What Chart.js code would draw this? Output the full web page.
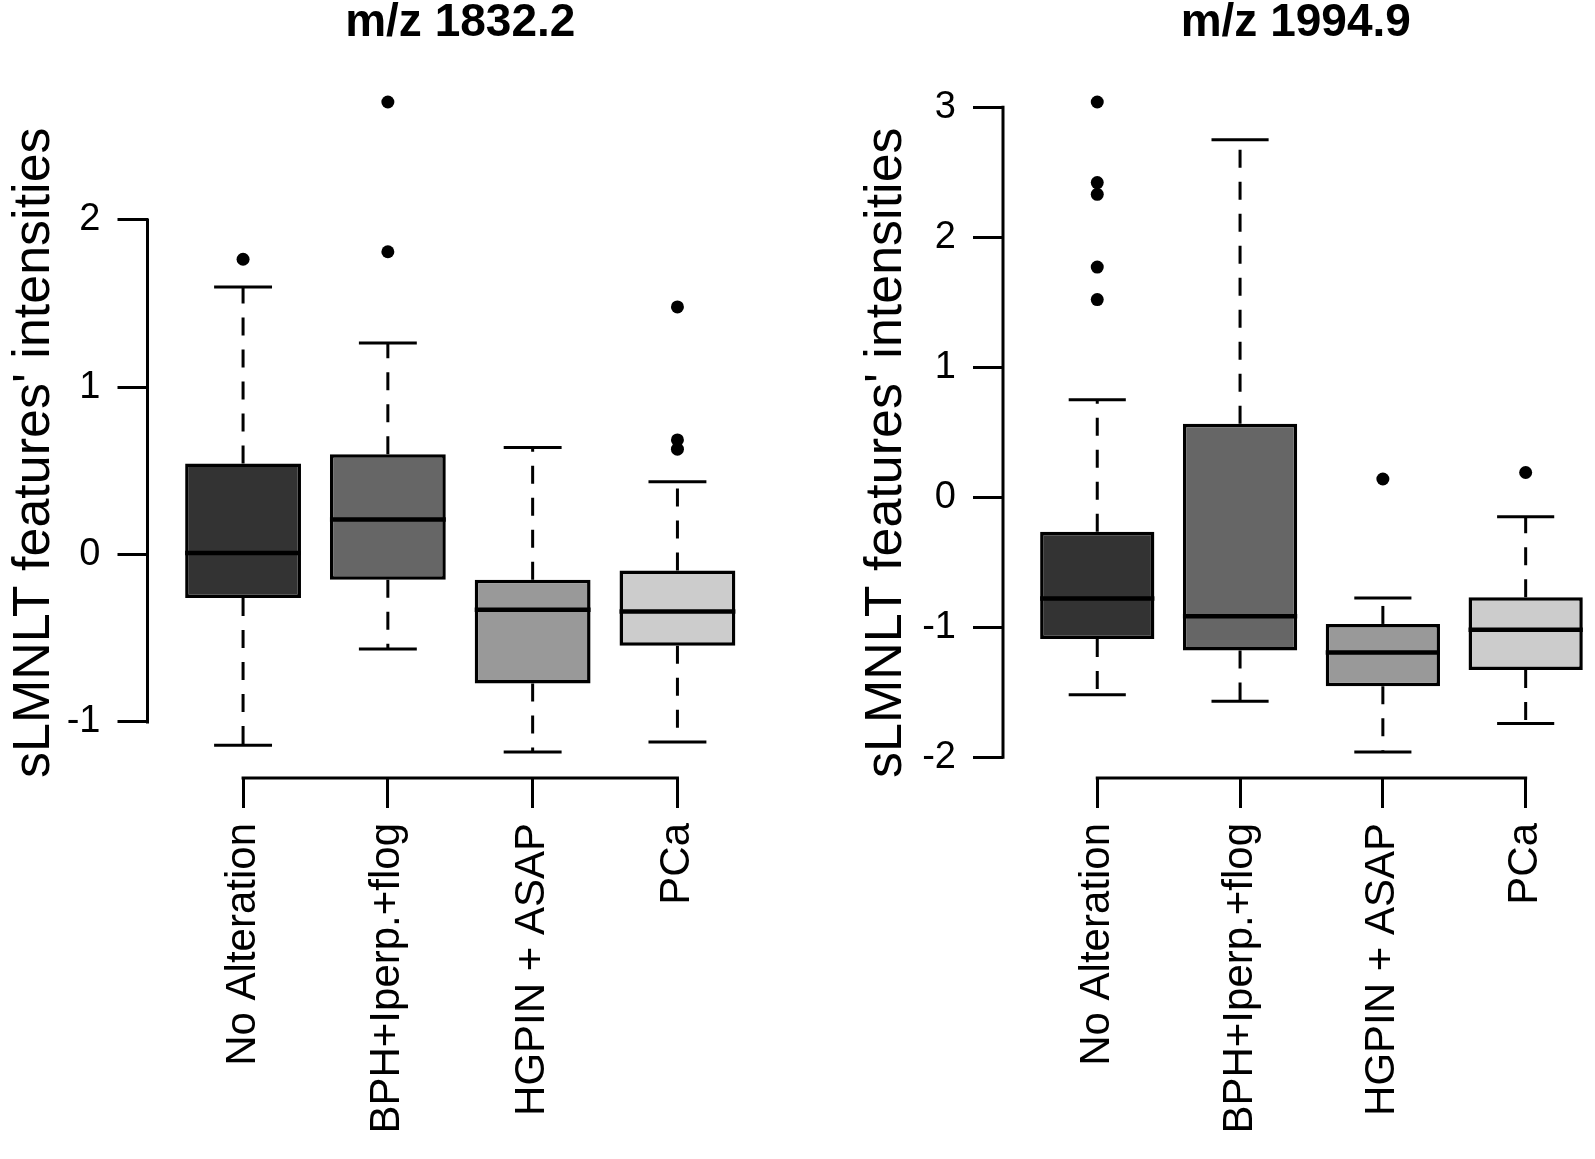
<!DOCTYPE html>
<html>
<head>
<meta charset="utf-8">
<title>sLMNLT box plots</title>
<script src="https://cdn.jsdelivr.net/npm/chart.js@4.4.1/dist/chart.umd.min.js"></script>
<style>
  html, body { margin: 0; padding: 0; background: #fff; overflow: hidden; }
  body { width: 1595px; height: 1159px; position: relative; }
  .panel { position: absolute; top: 0; height: 1159px; }
  #leftPanel { left: 0; width: 797px; }
  #rightPanel { left: 797px; width: 798px; }
</style>
</head>
<body>
<div class="panel" id="leftPanel"><canvas id="chartLeft"></canvas></div>
<div class="panel" id="rightPanel"><canvas id="chartRight"></canvas></div>
<script>
var categories = ['No Alteration', 'BPH+Iperp.+flog', 'HGPIN + ASAP', 'PCa'];
var boxFills = ['#333333', '#666666', '#999999', '#cccccc'];

// m/z 1832.2
var leftMin     = [-1.14, -0.565, -1.18, -1.12];
var leftQ1      = [-0.26, -0.15, -0.77, -0.545];
var leftMedian  = [0.01, 0.21, -0.33, -0.34];
var leftQ3      = [0.545, 0.60, -0.15, -0.095];
var leftMax     = [1.60, 1.265, 0.64, 0.435];
var leftOutliers = [[1.765], [1.81, 2.705], [], [0.63, 0.685, 1.48]];
var leftYTicks  = [-1, 0, 1, 2];

// m/z 1994.9
var rightMin     = [-1.52, -1.57, -1.96, -1.74];
var rightQ1      = [-1.09, -1.18, -1.455, -1.33];
var rightMedian  = [-0.78, -0.915, -1.195, -1.02];
var rightQ3      = [-0.265, 0.565, -0.975, -0.77];
var rightMax     = [0.75, 2.75, -0.775, -0.15];
var rightOutliers = [[1.52, 1.77, 2.33, 2.42, 3.04], [], [0.14], [0.19]];
var rightYTicks  = [-2, -1, 0, 1, 2, 3];

var FONT = "'Liberation Sans', Arial, Helvetica, sans-serif";
Chart.defaults.font.family = FONT;
Chart.defaults.color = '#000';

function strokeLine(ctx, x1, y1, x2, y2) {
  ctx.beginPath();
  ctx.moveTo(x1, y1);
  ctx.lineTo(x2, y2);
  ctx.stroke();
}

// whiskers, staples, medians and R-style axis lines
function makeBoxPlugin(stats, yTicks) {
  return {
    id: 'boxExtras',
    afterDatasetsDraw: function(chart) {
      var ctx = chart.ctx, xs = chart.scales.x, ys = chart.scales.y;
      var bars = chart.getDatasetMeta(0).data;
      ctx.save();
      ctx.strokeStyle = '#000';
      bars.forEach(function(bar, i) {
        var cx = xs.getPixelForValue(i + 1);
        var half = bar.width / 2;
        var yMin = ys.getPixelForValue(stats.min[i]);
        var yQ1 = ys.getPixelForValue(stats.q1[i]);
        var yMed = ys.getPixelForValue(stats.median[i]);
        var yQ3 = ys.getPixelForValue(stats.q3[i]);
        var yMax = ys.getPixelForValue(stats.max[i]);

        ctx.lineWidth = 3;
        ctx.setLineDash([18, 14]);
        strokeLine(ctx, cx, yQ3, cx, yMax);
        strokeLine(ctx, cx, yQ1, cx, yMin);
        ctx.setLineDash([]);
        strokeLine(ctx, cx - half / 2, yMax, cx + half / 2, yMax);
        strokeLine(ctx, cx - half / 2, yMin, cx + half / 2, yMin);

        ctx.lineWidth = 4.5;
        strokeLine(ctx, cx - half, yMed, cx + half, yMed);
      });
      ctx.restore();
    },
    afterDraw: function(chart) {
      var ctx = chart.ctx, xs = chart.scales.x, ys = chart.scales.y, area = chart.chartArea;
      ctx.save();
      ctx.strokeStyle = '#000';
      ctx.lineWidth = 3;
      ctx.lineCap = 'square';
      strokeLine(ctx, area.left, ys.getPixelForValue(yTicks[0]),
                      area.left, ys.getPixelForValue(yTicks[yTicks.length - 1]));
      strokeLine(ctx, xs.getPixelForValue(1), area.bottom,
                      xs.getPixelForValue(categories.length), area.bottom);
      ctx.restore();
    }
  };
}

function buildBoxChart(id, title, stats, outliers, yTicks, layout) {
  var ctx = document.getElementById(id);
  if (!ctx) return;

  // R boxplot limits: data range widened by 4% on each side
  var all = stats.min.concat(stats.max);
  outliers.forEach(function(o) { all = all.concat(o); });
  var lo = Math.min.apply(null, all), hi = Math.max.apply(null, all);
  var pad = (hi - lo) * 0.04;

  var boxData = categories.map(function(c, i) {
    return { x: i + 1, y: [stats.q1[i], stats.q3[i]] };
  });
  var outlierData = [];
  outliers.forEach(function(list, i) {
    list.forEach(function(v) { outlierData.push({ x: i + 1, y: v }); });
  });

  new Chart(ctx, {
    type: 'bar',
    data: {
      datasets: [{
        type: 'bar',
        data: boxData,
        backgroundColor: boxFills,
        borderColor: '#000',
        borderWidth: 3.5,
        borderSkipped: false,
        barPercentage: 0.8,
        categoryPercentage: 1.0
      }, {
        type: 'scatter',
        data: outlierData,
        pointRadius: 6.5,
        pointBackgroundColor: '#000',
        pointBorderWidth: 0
      }]
    },
    options: {
      responsive: true,
      maintainAspectRatio: false,
      animation: false,
      events: [],
      layout: { padding: { top: 0, left: 0, bottom: 0, right: layout.padRight } },
      plugins: {
        legend: { display: false },
        tooltip: { enabled: false },
        title: {
          display: true,
          text: title,
          fullSize: false,
          color: '#000',
          font: { size: 46, weight: 'bold', lineHeight: 1 },
          padding: { top: 0, bottom: 30 }
        }
      },
      scales: {
        x: {
          type: 'linear',
          min: 0.5 - 0.16,
          max: layout.xMax,
          offset: false,
          afterBuildTicks: function(scale) {
            scale.ticks = categories.map(function(c, i) { return { value: i + 1 }; });
          },
          afterFit: function(scale) { scale.height = 381; },
          border: { display: false },
          grid: { offset: false, drawOnChartArea: false, tickLength: 30, color: '#000', lineWidth: 3 },
          ticks: {
            autoSkip: false,
            minRotation: 90,
            maxRotation: 90,
            padding: 15,
            color: '#000',
            font: { size: 42 },
            callback: function(v) { return categories[v - 1]; }
          }
        },
        y: {
          min: lo - pad,
          max: hi + pad,
          afterBuildTicks: function(scale) {
            scale.ticks = yTicks.map(function(v) { return { value: v }; });
          },
          afterFit: function(scale) { scale.width = layout.yWidth; },
          border: { display: false },
          grid: { drawOnChartArea: false, tickLength: 30, color: '#000', lineWidth: 3 },
          ticks: {
            padding: 17,
            color: '#000',
            font: { size: 38 },
            callback: function(v) { return String(v); }
          },
          title: {
            display: true,
            text: "sLMNLT features' intensities",
            align: 'start',
            color: '#000',
            font: { size: 52 },
            padding: { top: layout.titlePad, bottom: 0 }
          }
        }
      }
    },
    plugins: [makeBoxPlugin(stats, yTicks)]
  });
}

document.addEventListener('DOMContentLoaded', function() {
  buildBoxChart('chartLeft', 'm/z 1832.2',
    { min: leftMin, q1: leftQ1, median: leftMedian, q3: leftQ3, max: leftMax },
    leftOutliers, leftYTicks,
    { yWidth: 147.5, padRight: 24, xMax: 4.66, titlePad: 3 });
  buildBoxChart('chartRight', 'm/z 1994.9',
    { min: rightMin, q1: rightQ1, median: rightMedian, q3: rightQ3, max: rightMax },
    rightOutliers, rightYTicks,
    { yWidth: 206, padRight: 0, xMax: 4.44, titlePad: 58 });
});
</script>
</body>
</html>
